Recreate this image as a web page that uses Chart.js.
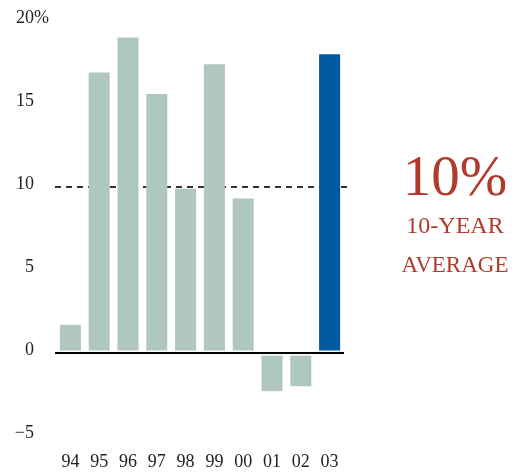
<!DOCTYPE html>
<html>
<head>
<meta charset="utf-8">
<script src="https://cdn.jsdelivr.net/npm/chart.js@4/dist/chart.umd.min.js"></script>
<style>
  html, body { margin: 0; padding: 0; background: #fff; }
  #wrap { width: 521px; height: 474px; }
</style>
</head>
<body>
<div id="wrap"><canvas id="chart" width="521" height="474"></canvas></div>
<script>
const years = ['94', '95', '96', '97', '98', '99', '00', '01', '02', '03']
const returns = [1.7, 16.9, 19.0, 15.6, 9.9, 17.4, 9.3, -2.3, -2.0, 18.0]
const yTicks = [-5, 0, 5, 10, 15, 20]
const average = 10
const noteLines = ['10-YEAR', 'AVERAGE']

const serif = '"Liberation Serif", "DejaVu Serif", serif'
const barGrey = '#b0c7be'
const barBlue = '#005b9e'
const red = '#b23a2c'

const barColors = years.map(function (y, i) {
    return i === years.length - 1 ? barBlue : barGrey
})

// zero line, dashed average line, the % sign and the note on the right
const extras = {
    id: 'extras',
    beforeDatasetsDraw(chart) {
        const c = chart.ctx
        const y = chart.scales.y
        const area = chart.chartArea
        c.save()
        c.strokeStyle = '#333'
        c.lineWidth = 2
        c.setLineDash([6, 5])
        c.beginPath()
        c.moveTo(area.left - 1, y.getPixelForValue(average))
        c.lineTo(area.right + 4, y.getPixelForValue(average))
        c.stroke()
        c.restore()
    },
    afterDatasetsDraw(chart) {
        const c = chart.ctx
        const y = chart.scales.y
        const area = chart.chartArea
        const y0 = y.getPixelForValue(0)
        c.save()
        // small white gap around the baseline, then the baseline itself
        c.strokeStyle = '#fff'
        c.lineWidth = 5
        c.beginPath()
        c.moveTo(area.left - 1, y0)
        c.lineTo(area.right, y0)
        c.stroke()
        c.strokeStyle = '#000'
        c.lineWidth = 2
        c.beginPath()
        c.moveTo(area.left - 1, y0)
        c.lineTo(area.right, y0)
        c.stroke()

        // percent sign hanging after the top tick
        const top = yTicks[yTicks.length - 1]
        c.fillStyle = '#222'
        c.font = '18px ' + serif
        c.textAlign = 'left'
        c.textBaseline = 'middle'
        c.fillText('%', area.left - 22, y.getPixelForValue(top) - 3)

        const cx = 455
        c.fillStyle = red
        c.textAlign = 'center'
        c.textBaseline = 'alphabetic'
        c.font = '57px ' + serif
        c.fillText(average + '%', cx, 195)
        c.font = '24px ' + serif
        c.fillText(noteLines[0], cx, 233)
        c.font = '23px ' + serif
        c.fillText(noteLines[1], cx, 272)
        c.restore()
    }
}

new Chart(document.getElementById('chart'), {
    type: 'bar',
    data: {
        labels: years,
        datasets: [{
            data: returns,
            backgroundColor: barColors,
            borderWidth: 0,
            barPercentage: 0.73,
            categoryPercentage: 1
        }]
    },
    options: {
        responsive: false,
        animation: false,
        layout: { padding: { top: 21, right: 177, left: 0, bottom: 0 } },
        plugins: { legend: { display: false }, tooltip: { enabled: false } },
        scales: {
            x: {
                grid: { display: false, drawTicks: false },
                border: { display: false },
                afterFit: function (s) { s.height = 38 },
                ticks: { color: '#222', padding: 15, font: { family: serif, size: 18 } }
            },
            y: {
                min: -5,
                max: 20,
                grid: { display: false, drawTicks: false },
                border: { display: false },
                afterFit: function (s) {
                    s.width = 56
                    s.paddingTop = 11
                    s.paddingBottom = 11
                },
                afterBuildTicks: function (s) {
                    s.ticks = yTicks.map(function (v) { return { value: v } })
                },
                ticks: {
                    color: '#222',
                    padding: 22,
                    labelOffset: -3,
                    font: { family: serif, size: 18 },
                    callback: function (v) { return v < 0 ? '\u2212' + Math.abs(v) : String(v) }
                }
            }
        }
    },
    plugins: [extras]
})
</script>
</body>
</html>
